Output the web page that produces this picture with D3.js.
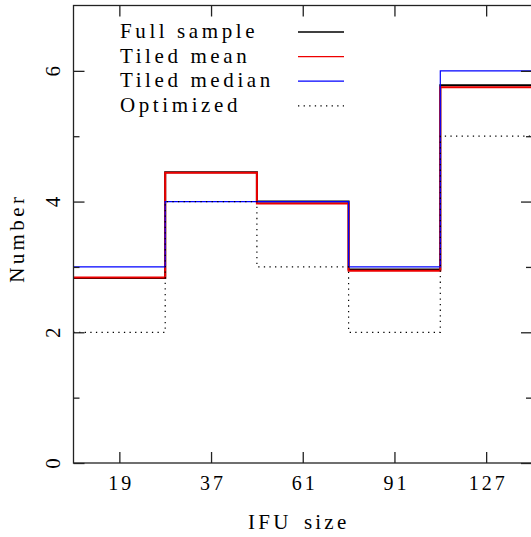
<!DOCTYPE html>
<html>
<head>
<meta charset="utf-8">
<script src="https://cdn.jsdelivr.net/npm/d3@7"></script>
<style>
  body { margin: 0; background: #fff; }
  text { font-family: "Liberation Serif", "DejaVu Serif", serif; fill: #000; }
</style>
</head>
<body>
<div id="chart"></div>
<script>
// IFU size bins and number of galaxies per bin
const sizes = ['19', '37', '61', '91', '127']
const fullSample = [2.83, 4.45, 4.0, 2.96, 5.78]
const tiledMean = [2.84, 4.44, 3.97, 2.94, 5.75]
const tiledMedian = [3.0, 4.0, 4.0, 3.0, 6.0]
const optimized = [2.0, 4.0, 3.0, 2.0, 5.0]

const seriesNames = ['Full sample', 'Tiled mean', 'Tiled median', 'Optimized']
const majorTicks = [0, 2, 4, 6]
const minorTicks = [1, 3, 5]

const width = 531, height = 537
const margin = { left: 73.5, right: -1, top: 5.5, bottom: 74 }

const svg = d3.select('#chart')
    .append('svg')
    .attr('width', width)
    .attr('height', height)

const x = d3.scaleBand()
    .domain(sizes)
    .range([margin.left, width - margin.right])
    .padding(0)

const y = d3.scaleLinear()
    .domain([0, 7])
    .range([height - margin.bottom, margin.top])

const series = [
    { name: seriesNames[0], values: fullSample, color: '#000', w: 2, dash: null },
    { name: seriesNames[1], values: tiledMean, color: '#e00', w: 2, dash: null },
    { name: seriesNames[2], values: tiledMedian, color: '#00f', w: 1.2, dash: null },
    { name: seriesNames[3], values: optimized, color: '#000', w: 1.2, dash: '1.3,4.3' },
]

// step line: one flat segment per bin
const line = d3.line()
    .x(d => d[0])
    .y(d => y(d[1]))
    .curve(d3.curveStepAfter)

function stepPoints(values) {
    var pts = sizes.map((s, i) => [x(s), values[i]])
    pts.push([x(sizes[sizes.length - 1]) + x.bandwidth(), values[values.length - 1]])
    return pts
}

svg.selectAll('.series')
    .data(series)
    .enter()
    .append('path')
    .attr('class', 'series')
    .attr('fill', 'none')
    .attr('stroke', d => d.color)
    .attr('stroke-width', d => d.w)
    .attr('stroke-dasharray', d => d.dash)
    .attr('d', d => line(stepPoints(d.values)))

// frame
const x0 = x.range()[0], x1 = x.range()[1]
const yb = y(0), yt = y(7)

svg.append('rect')
    .attr('x', x0)
    .attr('y', yt)
    .attr('width', x1 - x0)
    .attr('height', yb - yt)
    .attr('fill', 'none')
    .attr('stroke', '#222')
    .attr('stroke-width', 1.3)

const xPos = d3.scalePoint().domain(sizes).range([x(sizes[0]) + x.bandwidth() / 2, x(sizes[4]) + x.bandwidth() / 2])

// bottom axis
const bottomAxis = svg.append('g')
    .attr('transform', 'translate(0,' + yb + ')')
    .call(d3.axisBottom(xPos).tickSizeInner(-11).tickSizeOuter(0).tickPadding(13))
bottomAxis.select('.domain').remove()
bottomAxis.selectAll('text')
    .attr('font-size', 20)
    .attr('letter-spacing', 3)
    .attr('dx', 1.5)
    .attr('dy', '0.72em')

// top axis
const topAxis = svg.append('g')
    .attr('transform', 'translate(0,' + yt + ')')
    .call(d3.axisTop(xPos).tickSizeInner(-11).tickSizeOuter(0).tickFormat(''))
topAxis.select('.domain').remove()

// left axis, major and minor
const leftAxis = svg.append('g')
    .attr('transform', 'translate(' + x0 + ',0)')
    .call(d3.axisLeft(y).tickValues(majorTicks).tickSizeInner(-11).tickSizeOuter(0).tickFormat(d3.format('d')))
leftAxis.select('.domain').remove()
leftAxis.selectAll('text')
    .attr('font-size', 21)
    .attr('text-anchor', 'middle')
    .attr('dy', null)
    .attr('x', null)
    .attr('dominant-baseline', 'central')
    .attr('transform', 'translate(-21,0) rotate(-90)')

const leftMinor = svg.append('g')
    .attr('transform', 'translate(' + x0 + ',0)')
    .call(d3.axisLeft(y).tickValues(minorTicks).tickSizeInner(-6).tickSizeOuter(0).tickFormat(''))
leftMinor.select('.domain').remove()

// right axis
const rightAxis = svg.append('g')
    .attr('transform', 'translate(' + x1 + ',0)')
    .call(d3.axisRight(y).tickValues(majorTicks).tickSizeInner(-11).tickSizeOuter(0).tickFormat(''))
rightAxis.select('.domain').remove()
const rightMinor = svg.append('g')
    .attr('transform', 'translate(' + x1 + ',0)')
    .call(d3.axisRight(y).tickValues(minorTicks).tickSizeInner(-6).tickSizeOuter(0).tickFormat(''))
rightMinor.select('.domain').remove()

svg.selectAll('.tick line').attr('stroke', '#222').attr('stroke-width', 1.3)

// axis titles
svg.append('text')
    .attr('x', xPos('61') - 4)
    .attr('y', 529)
    .attr('text-anchor', 'middle')
    .attr('font-size', 21)
    .attr('letter-spacing', 3.2)
    .attr('word-spacing', 4)
    .text('IFU size')

svg.append('text')
    .attr('transform', 'translate(24,' + (y(3.5) + 4) + ') rotate(-90)')
    .attr('text-anchor', 'middle')
    .attr('font-size', 21)
    .attr('letter-spacing', 3.4)
    .text('Number')

// legend
const legend = svg.selectAll('.legend')
    .data(series)
    .enter()
    .append('g')
    .attr('class', 'legend')
    .attr('transform', (d, i) => 'translate(120,' + (38 + i * 24.6) + ')')

legend.append('text')
    .attr('font-size', 21)
    .attr('letter-spacing', 3.6)
    .text(d => d.name)

legend.append('line')
    .attr('x1', 178)
    .attr('x2', 224)
    .attr('y1', -6)
    .attr('y2', -6)
    .attr('stroke', d => d.color)
    .attr('stroke-width', 1.3)
    .attr('stroke-dasharray', d => d.dash)
</script>
</body>
</html>
